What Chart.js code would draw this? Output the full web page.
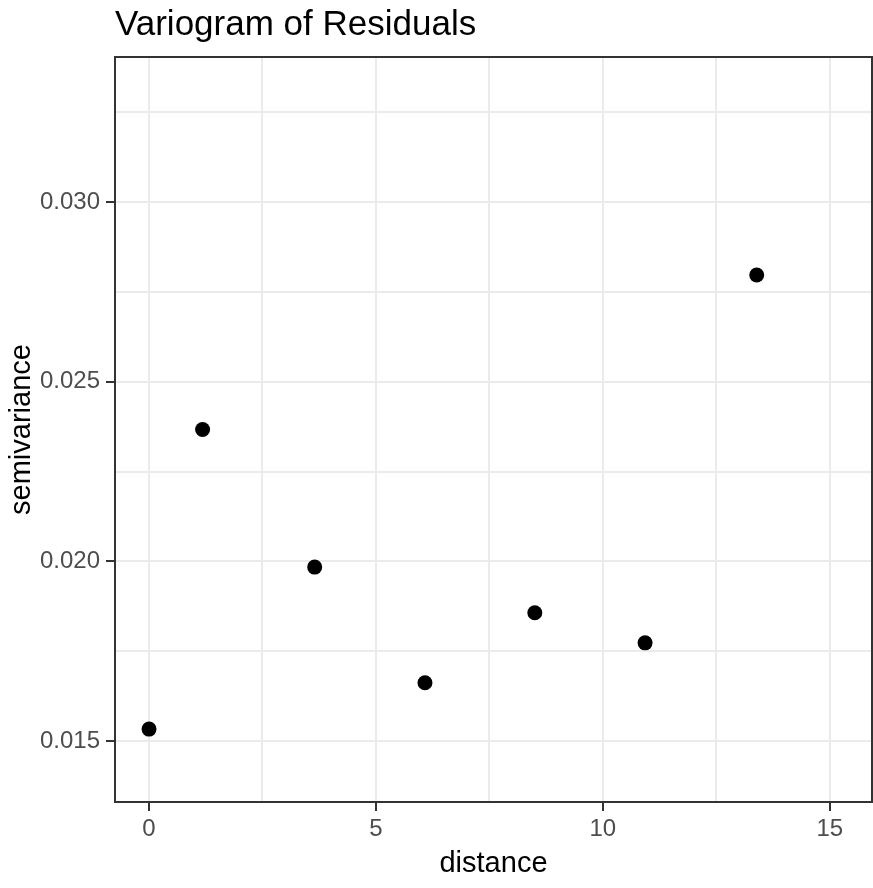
<!DOCTYPE html>
<html>
<head>
<meta charset="utf-8">
<script src="https://cdn.jsdelivr.net/npm/chart.js@4.4.1/dist/chart.umd.min.js"></script>
<style>
  html, body { margin: 0; padding: 0; background: #fff; overflow: hidden; }
  #vario { display: block; }
</style>
</head>
<body>
<canvas id="vario" width="873" height="888"></canvas>
<script>
// ============================================================
// Variogram of residuals
// ============================================================

const distance = [0, 1.18, 3.65, 6.08, 8.50, 10.93, 13.39];
const semivariance = [0.01533, 0.02367, 0.01984, 0.01662, 0.01857, 0.01773, 0.02797];

// gridlines: majors get a label + tick mark, minors are grid only
const xGrid = [0, 2.5, 5, 7.5, 10, 12.5, 15];
const xLabels = [0, 5, 10, 15];
const yGrid = [0.015, 0.0175, 0.02, 0.0225, 0.025, 0.0275, 0.03, 0.0325];
const yLabels = [0.015, 0.02, 0.025, 0.03];

const isMajor = (list, v) => list.some(m => Math.abs(m - v) < 1e-9);

const FONT = "'Liberation Sans', Arial, sans-serif";
const GRID = '#EBEBEB';
const INK = '#333333';

// panel border drawn on top, like ggplot's theme_bw
const panelBorder = {
  id: 'panelBorder',
  afterDraw(chart) {
    const { ctx, chartArea: a } = chart;
    ctx.save();
    ctx.strokeStyle = INK;
    ctx.lineWidth = 2;
    ctx.strokeRect(a.left, a.top, a.right - a.left, a.bottom - a.top);
    ctx.restore();
  }
};

const canvas = document.getElementById('vario');

new Chart(canvas, {
  type: 'scatter',
  data: {
    datasets: [{
      data: distance.map((d, i) => ({ x: d, y: semivariance[i] })),
      backgroundColor: '#000',
      borderColor: '#000',
      pointRadius: 7.5,
      pointHoverRadius: 7.5,
      borderWidth: 0,
    }]
  },
  options: {
    responsive: false,
    animation: false,
    layout: { autoPadding: false, padding: { left: 0, right: 1, top: 0, bottom: 0 } },
    plugins: {
      legend: { display: false },
      tooltip: { enabled: false },
      title: {
        display: true,
        text: 'Variogram of Residuals',
        align: 'start',
        fullSize: false,
        color: '#000',
        font: { family: FONT, size: 35, weight: 'normal' },
        padding: { top: 4, bottom: 11 },
      }
    },
    scales: {
      x: {
        type: 'linear',
        min: -0.75,
        max: 15.93,
        afterBuildTicks: s => { s.ticks = xGrid.map(v => ({ value: v })); },
        afterFit: s => { s.height = 86; s.paddingLeft = 0; s.paddingRight = 0; },
        border: { display: false },
        grid: {
          color: GRID,
          lineWidth: 2,
          tickLength: 9,
          tickWidth: 2,
          tickColor: c => isMajor(xLabels, c.tick.value) ? INK : 'rgba(0,0,0,0)',
        },
        ticks: {
          color: '#4D4D4D',
          font: { family: FONT, size: 24 },
          padding: 4,
          maxRotation: 0,
          autoSkip: false,
          callback: v => isMajor(xLabels, v) ? String(v) : '',
        },
        title: {
          display: true,
          text: 'distance',
          color: '#000',
          font: { family: FONT, size: 29 },
          padding: { top: 2, bottom: 7 },
        }
      },
      y: {
        type: 'linear',
        min: 0.0133,
        max: 0.03404,
        afterBuildTicks: s => { s.ticks = yGrid.map(v => ({ value: v })); },
        afterFit: s => { s.width = 115; s.paddingTop = 0; s.paddingBottom = 0; },
        border: { display: false },
        grid: {
          color: GRID,
          lineWidth: 2,
          tickLength: 9,
          tickWidth: 2,
          tickColor: c => isMajor(yLabels, c.tick.value) ? INK : 'rgba(0,0,0,0)',
        },
        ticks: {
          color: '#4D4D4D',
          font: { family: FONT, size: 24 },
          padding: 6,
          autoSkip: false,
          callback: v => isMajor(yLabels, v) ? v.toFixed(3) : '',
        },
        title: {
          display: true,
          text: 'semivariance',
          color: '#000',
          font: { family: FONT, size: 29 },
          padding: { top: 5, bottom: 0 },
        }
      }
    }
  },
  plugins: [panelBorder]
});
</script>
</body>
</html>
